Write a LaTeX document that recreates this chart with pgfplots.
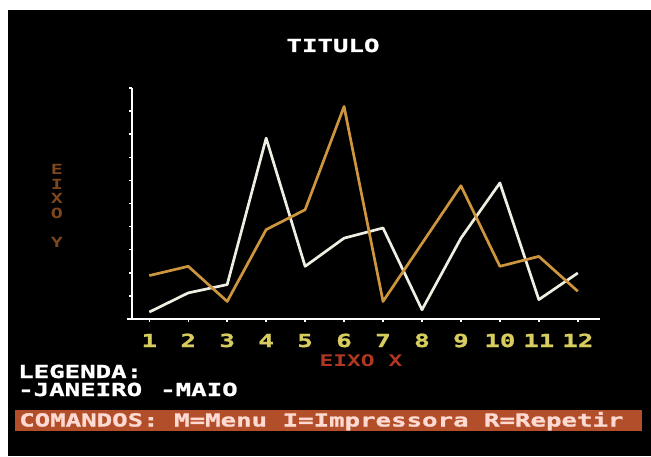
\documentclass[border=0pt]{standalone}
\usepackage{fontspec}
\usepackage{graphicx}
\usepackage{pgfplots}
\pgfplotsset{compat=1.18}
\newfontfamily\crt{DejaVu Sans Mono Bold}[FakeStretch=1.43, FakeBold=1.2]
\newfontfamily\crtthin{DejaVu Sans Mono Bold}[FakeStretch=1.43]
\newcommand\crtfont{\crt\fontsize{18}{20}\selectfont}
\definecolor{ticky}{RGB}{215,205,95}
\definecolor{axred}{RGB}{175,55,35}
\definecolor{ydim}{RGB}{125,70,30}
\definecolor{barc}{RGB}{178,78,42}
\definecolor{bartext}{RGB}{255,218,210}
\definecolor{serA}{RGB}{238,238,226}
\definecolor{serB}{RGB}{205,150,62}
\begin{document}
\begin{tikzpicture}[x=1pt,y=1pt]
\path[use as bounding box] (0,0) rectangle (651,456);
\fill[white] (0,0) rectangle (651,456);
\fill[black] (8,0) rectangle (651,446);
\begin{axis}[
  at={(132pt,137pt)}, anchor=south west,
  scale only axis, width=468pt, height=231pt,
  xmin=0.556, xmax=12.57, ymin=0, ymax=10,
  axis x line=bottom, axis y line=left,
  axis line style={white, line width=2.6pt, -},
  x axis line style={shorten <=-5pt},
  xtick={1,...,12}, ytick={1,...,10}, yticklabels={},
  tick style={white, line width=1.5pt},
  major tick length=3pt, tick align=outside,
  /pgf/number format/assume math mode=true,
  xticklabel style={font=\crtfont, text=ticky, anchor=base, yshift=-25pt},
  clip=false,
]
\addplot[serA, line width=2.7pt, line join=round] coordinates {
 (1,0.30) (2,1.13) (3,1.49) (4,7.83) (5,2.28) (6,3.50)
 (7,3.94) (8,0.40) (9,3.50) (10,5.89) (11,0.84) (12,1.99)};
\addplot[serB, line width=2.7pt, line join=round] coordinates {
 (1,1.88) (2,2.28) (3,0.76) (4,3.87) (5,4.73) (6,9.20)
 (7,0.76) (8,3.27) (9,5.77) (10,2.28) (11,2.71) (12,1.20)};
\end{axis}
% title and labels
\node[anchor=base, inner sep=0, text=white, font=\crtfont] at (333,404) {TITULO};
\node[anchor=base, inner sep=0, text=axred, font=\crtthin\fontsize{16}{18}\selectfont] at (361,90) {EIXO X};
\node[anchor=center, inner sep=0, text=ydim, align=center,
      font=\crtthin\fontsize{14}{14.5}\selectfont] at (57,250) {E\\I\\X\\O\\[14.5pt]Y};
% legend
\node[anchor=base west, inner sep=0, text=white, font=\crtfont] at (18,78) {LEGENDA:};
\node[anchor=base west, inner sep=0, text=white, font=\crtfont] at (18,60) {-JANEIRO};
\node[anchor=base west, inner sep=0, text=white, font=\crtfont] at (160,60) {-MAIO};
% command bar
\fill[barc] (15,25) rectangle (642,46);
\node[anchor=base west, inner sep=0, text=bartext, font=\crtfont] at (19,29.5) {COMANDOS: M=Menu I=Impressora R=Repetir};
\end{tikzpicture}
\end{document}
